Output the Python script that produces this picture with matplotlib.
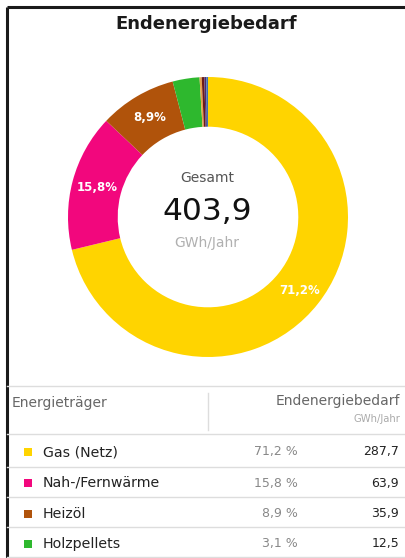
import math
import matplotlib
matplotlib.use("Agg")
import matplotlib.pyplot as plt
from matplotlib.patches import Rectangle

plt.rcParams['font.family'] = ['DejaVu Sans']

# ---- data ----
categories = ["Gas (Netz)", "Nah-/Fernwärme", "Heizöl", "Holzpellets",
              "Flüssiggas", "Strom", "Solarthermie", "Umweltwärme"]
values = [287.7, 63.9, 35.9, 12.5, 1.0, 1.2, 0.9, 0.8]
pct_labels = ["71,2 %", "15,8 %", "8,9 %", "3,1 %", "", "", "", ""]
value_labels = ["287,7", "63,9", "35,9", "12,5"]
colors = ["#FFD400", "#F2077D", "#B0530B", "#2EB82E",
          "#E8A04A", "#6B1A1A", "#4B2C6B", "#3E6FB5"]
total_label = "403,9"
title = "Endenergiebedarf"

W, H = 405, 558
fig = plt.figure(figsize=(W / 100, H / 100), dpi=100)
ax = fig.add_axes([0, 0, 1, 1])

def Y(y):
    return H - y

# donut
cx, cy, R = 208, 217, 140
ring = 0.355
ax.pie(values, colors=colors, startangle=90, counterclock=False,
       center=(cx, Y(cy)), radius=R, frame=True,
       wedgeprops=dict(width=R * ring, linewidth=0))
ax.set_xlim(0, W)
ax.set_ylim(0, H)
ax.set_aspect("equal")
ax.axis("off")

# frame (top and left black borders)
ax.plot([7, W], [Y(7), Y(7)], color="#1a1a1a", lw=2.2, solid_capstyle="butt")
ax.plot([7, 7], [Y(7), 0], color="#1a1a1a", lw=2.2, solid_capstyle="butt")

ax.text(206, Y(24), title, ha="center", va="center", fontsize=13,
        fontweight="bold", color="#1a1a1a")

# in-ring labels
cum = 0.0
tot = sum(values)
for i, v in enumerate(values):
    if i < 3:
        mid = 90 - (cum + v / 2) / tot * 360
        r = R * (1 - ring / 2)
        x = cx + r * math.cos(math.radians(mid))
        y = Y(cy) + r * math.sin(math.radians(mid))
        if i == 0:
            x, y = cx + 92, Y(cy) - 73
        ax.text(x, y, pct_labels[i].replace(" ", ""), ha="center", va="center",
                color="white", fontsize=8.5, fontweight="bold")
    cum += v

ax.text(207, Y(178), "Gesamt", ha="center", va="center", fontsize=10, color="#555555")
ax.text(207, Y(212), total_label, ha="center", va="center", fontsize=22.5, color="#111111")
ax.text(207, Y(243), "GWh/Jahr", ha="center", va="center", fontsize=10, color="#b0b0b0")

# table
line_c = "#dddddd"
ax.plot([7, W], [Y(386), Y(386)], color=line_c, lw=1)
ax.plot([208, 208], [Y(393), Y(430)], color=line_c, lw=1)
ax.text(12, Y(403), "Energieträger", ha="left", va="center", fontsize=10, color="#666666")
ax.text(400, Y(401), "Endenergiebedarf", ha="right", va="center", fontsize=10, color="#666666")
ax.text(400, Y(419), "GWh/Jahr", ha="right", va="center", fontsize=7.2, color="#aaaaaa")
ax.plot([7, W], [Y(434), Y(434)], color=line_c, lw=1)

row_y = [452, 483, 514, 544]
sep_y = [467, 497, 527, 557]
for i, ry in enumerate(row_y):
    ax.add_patch(Rectangle((24, Y(ry) - 4), 8, 8, color=colors[i], lw=0))
    ax.text(43, Y(ry), categories[i], ha="left", va="center", fontsize=10.2, color="#222222")
    ax.text(298, Y(ry), pct_labels[i], ha="right", va="center", fontsize=9, color="#888888")
    ax.text(399, Y(ry), value_labels[i], ha="right", va="center", fontsize=9, color="#222222")
    ax.plot([7, W], [Y(sep_y[i]), Y(sep_y[i])], color=line_c, lw=1)

fig.savefig("out.png", dpi=100, facecolor="white")
